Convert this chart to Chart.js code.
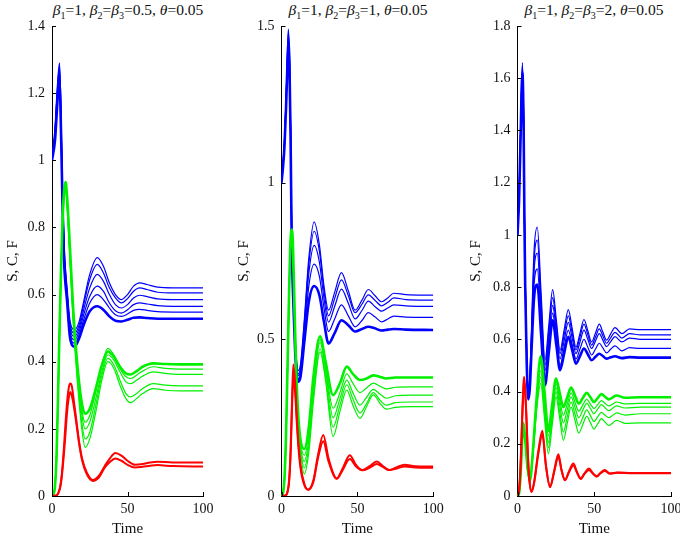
<!DOCTYPE html>
<html>
<head>
<meta charset="utf-8">
<script src="https://cdn.jsdelivr.net/npm/chart.js@4.4.0/dist/chart.umd.min.js"></script>
<style>
  html, body { margin: 0; padding: 0; background: #fff; }
  body { position: relative; width: 680px; height: 537px; overflow: hidden; }
  canvas { position: absolute; top: 0; }
  .ttl { position: absolute; top: 0; text-align: center; font-family: "Liberation Serif", serif; font-size: 15.5px; line-height: 19px; color: #111; white-space: nowrap; }
  .ttl sub { font-size: 10px; line-height: 0; vertical-align: -4px; }
</style>
</head>
<body>
<div class="ttl" style="left:40px;width:176px"><i>β</i><sub>1</sub>=1, <i>β</i><sub>2</sub>=<i>β</i><sub>3</sub>=0.5, <i>θ</i>=0.05</div>
<div class="ttl" style="left:270px;width:176px"><i>β</i><sub>1</sub>=1, <i>β</i><sub>2</sub>=<i>β</i><sub>3</sub>=1, <i>θ</i>=0.05</div>
<div class="ttl" style="left:506px;width:176px"><i>β</i><sub>1</sub>=1, <i>β</i><sub>2</sub>=<i>β</i><sub>3</sub>=2, <i>θ</i>=0.05</div>
<canvas id="c1" width="230" height="537" style="left:0"></canvas>
<canvas id="c2" width="230" height="537" style="left:230px"></canvas>
<canvas id="c3" width="240" height="537" style="left:460px"></canvas>
<script>
// x ticks shared, y ticks per panel
const xTicks = [0, 50, 100];
const p1YTicks = [0, 0.2, 0.4, 0.6, 0.8, 1, 1.2, 1.4];
const p2YTicks = [0, 0.5, 1, 1.5];
const p3YTicks = [0, 0.2, 0.4, 0.6, 0.8, 1, 1.2, 1.4, 1.6, 1.8];

// ---- panel 1: beta2=beta3=0.5 ----
const p1TimeS = [0, 2, 3, 4, 5, 6, 7, 8, 10, 12, 15, 18, 21, 25, 30, 34, 38, 42, 46, 50, 54, 58, 63, 70, 80, 100];
const p1S = [
  [1.00,1.10,1.18,1.25,1.29,1.13,0.91,0.75,0.62,0.52,0.495,0.52,0.58,0.66,0.71,0.685,0.635,0.60,0.585,0.60,0.625,0.635,0.630,0.622,0.620,0.620],
  [1.00,1.09,1.17,1.24,1.28,1.12,0.90,0.74,0.61,0.51,0.485,0.51,0.57,0.645,0.69,0.665,0.62,0.59,0.575,0.588,0.610,0.620,0.615,0.607,0.605,0.605],
  [1.00,1.08,1.16,1.23,1.27,1.11,0.89,0.73,0.60,0.50,0.475,0.50,0.555,0.62,0.66,0.64,0.60,0.57,0.56,0.57,0.590,0.598,0.594,0.587,0.585,0.585],
  [1.00,1.08,1.15,1.22,1.26,1.10,0.88,0.72,0.60,0.49,0.465,0.49,0.54,0.595,0.625,0.61,0.575,0.552,0.545,0.555,0.570,0.575,0.572,0.567,0.565,0.565],
  [1.00,1.07,1.14,1.21,1.25,1.09,0.87,0.71,0.59,0.48,0.455,0.48,0.525,0.575,0.60,0.585,0.56,0.54,0.535,0.542,0.553,0.556,0.553,0.549,0.548,0.548],
  [1.00,1.06,1.13,1.20,1.23,1.08,0.86,0.70,0.58,0.47,0.445,0.47,0.51,0.55,0.565,0.555,0.535,0.522,0.52,0.525,0.531,0.532,0.530,0.528,0.528,0.528]
];
const p1TimeC = [0, 1, 2, 3, 4, 5, 6, 7, 8, 9, 10, 12, 14, 17, 20, 22, 25, 29, 33, 37, 41, 45, 49, 52, 56, 60, 67, 75, 85, 100];
const p1C = [
  [0,0.005,0.03,0.12,0.30,0.50,0.68,0.82,0.91,0.935,0.89,0.73,0.56,0.38,0.27,0.245,0.26,0.32,0.39,0.43,0.415,0.385,0.365,0.362,0.372,0.385,0.395,0.393,0.392,0.392],
  [0,0.005,0.03,0.12,0.30,0.50,0.68,0.82,0.91,0.93,0.88,0.72,0.55,0.37,0.25,0.22,0.24,0.31,0.39,0.44,0.42,0.38,0.355,0.35,0.36,0.372,0.385,0.380,0.378,0.378],
  [0,0.005,0.03,0.12,0.29,0.49,0.67,0.81,0.90,0.92,0.87,0.71,0.54,0.36,0.235,0.20,0.22,0.29,0.37,0.42,0.405,0.37,0.34,0.335,0.345,0.357,0.37,0.365,0.362,0.362],
  [0,0.005,0.03,0.11,0.29,0.49,0.67,0.81,0.90,0.92,0.87,0.70,0.53,0.34,0.21,0.17,0.19,0.27,0.36,0.41,0.39,0.345,0.305,0.295,0.305,0.32,0.335,0.330,0.328,0.328],
  [0,0.005,0.03,0.11,0.28,0.48,0.66,0.80,0.89,0.91,0.86,0.69,0.52,0.33,0.19,0.145,0.17,0.25,0.345,0.40,0.38,0.33,0.29,0.278,0.29,0.305,0.32,0.315,0.313,0.313]
];
const p1TimeF = [0, 3, 5, 6, 7, 8, 9, 10, 11, 12, 13, 14, 16, 18, 20, 23, 27, 31, 35, 38, 42, 46, 50, 55, 60, 65, 70, 80, 100];
const p1F = [
  [0,0.002,0.02,0.045,0.09,0.15,0.22,0.28,0.32,0.335,0.33,0.30,0.23,0.16,0.11,0.07,0.048,0.06,0.09,0.11,0.128,0.12,0.105,0.093,0.095,0.10,0.102,0.10,0.10],
  [0,0.002,0.018,0.04,0.08,0.13,0.19,0.25,0.29,0.31,0.30,0.28,0.22,0.155,0.105,0.065,0.045,0.055,0.085,0.10,0.112,0.105,0.093,0.085,0.087,0.09,0.092,0.089,0.088]
];

// ---- panel 2: beta2=beta3=1 ----
const p2TimeS = [0, 1, 2, 3, 4, 4.5, 5.3, 6, 6.7, 8, 9, 10, 11, 12.5, 15, 18, 21.5, 25, 28, 31, 35, 39.5, 44, 48.5, 53, 57.2, 61.5, 66, 70, 74, 82, 100];
const p2S = [
  [1.00,1.06,1.14,1.27,1.42,1.49,1.40,1.18,0.86,0.63,0.50,0.43,0.40,0.42,0.56,0.76,0.875,0.80,0.67,0.593,0.65,0.713,0.655,0.593,0.625,0.659,0.64,0.62,0.632,0.647,0.643,0.641],
  [1.00,1.06,1.14,1.27,1.42,1.48,1.39,1.17,0.85,0.62,0.49,0.42,0.39,0.41,0.55,0.74,0.845,0.78,0.655,0.575,0.63,0.69,0.64,0.585,0.612,0.642,0.625,0.607,0.618,0.632,0.627,0.625],
  [1.00,1.06,1.13,1.26,1.41,1.47,1.38,1.16,0.84,0.61,0.48,0.41,0.385,0.40,0.53,0.71,0.80,0.745,0.63,0.555,0.605,0.66,0.615,0.565,0.592,0.622,0.605,0.59,0.60,0.61,0.607,0.605],
  [1.00,1.05,1.13,1.25,1.40,1.46,1.37,1.15,0.83,0.60,0.47,0.40,0.375,0.39,0.51,0.67,0.74,0.70,0.60,0.525,0.565,0.61,0.575,0.54,0.56,0.585,0.572,0.556,0.565,0.574,0.571,0.57],
  [1.00,1.05,1.12,1.24,1.39,1.45,1.36,1.14,0.82,0.59,0.46,0.39,0.365,0.38,0.49,0.62,0.67,0.64,0.555,0.487,0.52,0.561,0.545,0.525,0.533,0.54,0.535,0.528,0.531,0.533,0.531,0.53]
];
const p2TimeC = [0, 1, 2, 3, 4, 5, 6, 7, 8, 9, 10, 11, 12.5, 15, 18, 21, 25.4, 29, 34, 38.5, 43, 47, 51.7, 56, 60.5, 65, 69, 75, 85, 100];
const p2C = [
  [0,0.01,0.06,0.2,0.42,0.65,0.82,0.85,0.72,0.52,0.36,0.26,0.18,0.15,0.22,0.38,0.51,0.43,0.322,0.36,0.413,0.39,0.37,0.375,0.385,0.38,0.375,0.378,0.378,0.378],
  [0,0.01,0.06,0.2,0.42,0.65,0.82,0.85,0.71,0.51,0.35,0.25,0.17,0.13,0.20,0.36,0.50,0.41,0.28,0.33,0.39,0.36,0.33,0.345,0.36,0.35,0.342,0.347,0.348,0.348],
  [0,0.01,0.06,0.19,0.41,0.64,0.81,0.84,0.70,0.50,0.34,0.24,0.16,0.11,0.18,0.34,0.49,0.40,0.25,0.31,0.37,0.33,0.29,0.315,0.34,0.325,0.312,0.32,0.322,0.322],
  [0,0.01,0.06,0.19,0.41,0.64,0.81,0.84,0.70,0.49,0.33,0.23,0.15,0.09,0.16,0.32,0.47,0.38,0.22,0.29,0.355,0.31,0.265,0.295,0.33,0.305,0.29,0.298,0.30,0.30],
  [0,0.01,0.05,0.18,0.40,0.63,0.80,0.83,0.69,0.48,0.32,0.22,0.14,0.07,0.14,0.30,0.46,0.37,0.19,0.27,0.338,0.29,0.248,0.285,0.323,0.295,0.277,0.283,0.285,0.285]
];
const p2TimeF = [0, 3, 4, 5, 6, 7, 7.8, 9, 10, 11, 12.5, 15, 17.6, 21, 24, 27.5, 31, 36.4, 40, 45, 49, 53.2, 58, 62.7, 67, 71, 76, 81, 88, 100];
const p2F = [
  [0,0.003,0.015,0.05,0.15,0.32,0.42,0.36,0.26,0.18,0.10,0.04,0.02,0.05,0.13,0.195,0.12,0.056,0.085,0.13,0.10,0.083,0.095,0.11,0.095,0.083,0.092,0.10,0.095,0.094],
  [0,0.003,0.013,0.045,0.13,0.29,0.38,0.33,0.24,0.165,0.09,0.035,0.02,0.045,0.12,0.175,0.11,0.055,0.08,0.118,0.095,0.082,0.09,0.102,0.092,0.083,0.088,0.094,0.091,0.09]
];

// ---- panel 3: beta2=beta3=2 ----
const p3TimeS = [0, 1, 2, 3.2, 4, 4.5, 5, 6, 7, 8, 9, 10.8, 12.9, 15.4, 17.9, 20.4, 22.9, 25.3, 27.7, 30.4, 33.1, 35.6, 38.1, 40.7, 43.3, 45.8, 48.3, 50.8, 53.3, 55.6, 58, 60.7, 63.5, 68, 73, 80, 100];
const p3S = [
  [1.0,1.15,1.40,1.66,1.45,1.10,0.85,0.55,0.39,0.45,0.62,0.94,1.03,0.775,0.52,0.655,0.79,0.674,0.558,0.636,0.714,0.642,0.57,0.623,0.676,0.633,0.59,0.624,0.658,0.628,0.597,0.621,0.645,0.622,0.64,0.637,0.637],
  [1.0,1.15,1.40,1.65,1.44,1.09,0.84,0.54,0.385,0.44,0.60,0.90,0.98,0.74,0.50,0.63,0.76,0.653,0.545,0.618,0.69,0.625,0.56,0.609,0.658,0.618,0.578,0.609,0.64,0.613,0.585,0.606,0.627,0.605,0.622,0.617,0.617],
  [1.0,1.14,1.39,1.64,1.43,1.08,0.83,0.53,0.38,0.43,0.58,0.86,0.93,0.705,0.48,0.605,0.73,0.628,0.525,0.595,0.665,0.605,0.545,0.59,0.635,0.60,0.565,0.594,0.622,0.597,0.572,0.591,0.61,0.59,0.605,0.60,0.60],
  [1.0,1.14,1.38,1.63,1.42,1.07,0.82,0.52,0.375,0.42,0.56,0.81,0.87,0.66,0.45,0.575,0.70,0.60,0.50,0.568,0.635,0.58,0.525,0.563,0.60,0.57,0.54,0.563,0.585,0.567,0.548,0.562,0.575,0.556,0.568,0.565,0.565],
  [1.0,1.13,1.37,1.62,1.41,1.06,0.81,0.51,0.37,0.41,0.54,0.76,0.81,0.617,0.424,0.549,0.673,0.578,0.482,0.546,0.61,0.559,0.507,0.536,0.565,0.543,0.52,0.533,0.545,0.536,0.526,0.531,0.535,0.528,0.532,0.53,0.53]
];
const p3TimeC = [0, 1, 2, 3, 3.8, 5, 6.5, 8.1, 10, 12.5, 15.1, 17.6, 20.1, 22.6, 25.1, 27.5, 29.9, 32.4, 34.9, 37.4, 39.9, 42.5, 45.1, 47.5, 49.8, 52.2, 54.7, 57, 59.5, 62, 64.5, 70, 80, 100];
const p3C = [
  [0,0.01,0.08,0.21,0.28,0.22,0.11,0.06,0.17,0.38,0.535,0.40,0.25,0.35,0.45,0.395,0.34,0.378,0.415,0.385,0.354,0.375,0.395,0.378,0.36,0.375,0.39,0.38,0.37,0.378,0.385,0.376,0.378,0.378],
  [0,0.01,0.08,0.21,0.28,0.22,0.11,0.058,0.165,0.37,0.51,0.37,0.23,0.33,0.43,0.37,0.31,0.352,0.395,0.36,0.325,0.348,0.37,0.352,0.335,0.35,0.365,0.355,0.345,0.352,0.36,0.353,0.355,0.355],
  [0,0.01,0.075,0.2,0.275,0.215,0.105,0.057,0.16,0.35,0.48,0.34,0.205,0.31,0.415,0.348,0.28,0.33,0.38,0.34,0.30,0.328,0.355,0.335,0.315,0.333,0.35,0.338,0.327,0.336,0.345,0.337,0.34,0.34],
  [0,0.01,0.075,0.2,0.275,0.215,0.105,0.056,0.155,0.34,0.455,0.32,0.185,0.29,0.40,0.322,0.245,0.303,0.36,0.315,0.27,0.30,0.33,0.308,0.285,0.303,0.32,0.31,0.30,0.309,0.318,0.31,0.315,0.315],
  [0,0.01,0.07,0.19,0.27,0.21,0.10,0.055,0.15,0.33,0.43,0.296,0.162,0.271,0.38,0.297,0.213,0.277,0.34,0.291,0.241,0.273,0.305,0.281,0.256,0.276,0.296,0.283,0.27,0.28,0.29,0.278,0.28,0.28]
];
const p3TimeF = [0, 1, 2, 3, 4, 4.4, 5.5, 6.5, 7.5, 9.2, 11, 13.5, 16.2, 18.5, 21.2, 24, 26.6, 28.7, 30.9, 33.6, 36.4, 38.7, 41.1, 43.8, 46.6, 49, 51.6, 54, 56.9, 60, 65, 75, 100];
const p3F = [
  [0,0.02,0.12,0.30,0.44,0.456,0.35,0.20,0.08,0.015,0.06,0.17,0.25,0.12,0.034,0.10,0.16,0.10,0.06,0.095,0.124,0.093,0.065,0.088,0.105,0.088,0.074,0.088,0.10,0.086,0.09,0.088,0.088],
  [0,0.02,0.11,0.28,0.42,0.44,0.34,0.19,0.075,0.017,0.055,0.16,0.235,0.115,0.036,0.095,0.15,0.098,0.062,0.092,0.117,0.09,0.068,0.086,0.1,0.086,0.076,0.087,0.096,0.086,0.089,0.087,0.087]
];

const BLUE = "#0000ff", GREEN = "#00f000", RED = "#ff0000";
const FONT = "'Liberation Serif', serif";

// small inward tick marks on left and bottom axes
const inwardTicks = {
  id: "inwardTicks",
  afterDraw(chart) {
    const { ctx, chartArea, scales: { x, y } } = chart;
    ctx.save();
    ctx.strokeStyle = "#000";
    ctx.lineWidth = 1;
    ctx.beginPath();
    y.ticks.forEach(t => {
      const py = Math.round(y.getPixelForValue(t.value)) + 0.5;
      ctx.moveTo(chartArea.left, py);
      ctx.lineTo(chartArea.left + 4, py);
    });
    x.ticks.forEach(t => {
      const px = Math.round(x.getPixelForValue(t.value)) + 0.5;
      ctx.moveTo(px, chartArea.bottom);
      ctx.lineTo(px, chartArea.bottom - 4);
    });
    ctx.stroke();
    ctx.restore();
  }
};

function toSets(times, curves, color, thickIdx) {
  return curves.map((vals, k) => ({
    data: times.map((t, i) => ({ x: t, y: vals[i] })),
    borderColor: color,
    borderWidth: k === thickIdx ? 2.6 : 1.2,
    pointRadius: 0,
    fill: false,
    cubicInterpolationMode: "monotone"
  }));
}

const fmt = v => String(Math.round(v * 10) / 10);

function makePanel(id, p) {
  const datasets = [
    ...toSets(p.tF, p.F, RED, -1).map(d => ({ ...d, borderWidth: 2 })),
    ...toSets(p.tC, p.C, GREEN, 0),
    ...toSets(p.tS, p.S, BLUE, p.S.length - 1)
  ];
  new Chart(document.getElementById(id), {
    type: "line",
    data: { datasets },
    options: {
      responsive: false,
      animation: false,
      layout: { padding: { left: 0, right: p.padRight, top: 26, bottom: 0 } },
      plugins: { legend: { display: false }, tooltip: { enabled: false } },
      scales: {
        x: {
          type: "linear", min: 0, max: 100,
          afterBuildTicks: s => { s.ticks = xTicks.map(v => ({ value: v })); },
          afterFit: s => { s.height = 41; },
          grid: { display: false, drawTicks: false },
          border: { display: true, color: "#000", width: 1 },
          ticks: { font: { family: FONT, size: 14 }, color: "#111", padding: 5, maxRotation: 0, callback: fmt },
          title: { display: true, text: "Time", font: { family: FONT, size: 15 }, color: "#111", padding: { top: 0, bottom: -1 } }
        },
        y: {
          type: "linear", min: 0, max: p.yMax,
          afterBuildTicks: s => { s.ticks = p.yTicks.map(v => ({ value: v })); },
          afterFit: s => { s.width = p.axisLeft; },
          grid: { display: false, drawTicks: false },
          border: { display: true, color: "#000", width: 1 },
          ticks: { font: { family: FONT, size: 14 }, color: "#111", padding: 7, callback: fmt },
          title: { display: true, text: "S, C, F", font: { family: FONT, size: 15 }, color: "#111", padding: { top: p.titlePad, bottom: 0 } }
        }
      }
    },
    plugins: [inwardTicks]
  });
}

makePanel("c1", { tS: p1TimeS, S: p1S, tC: p1TimeC, C: p1C, tF: p1TimeF, F: p1F, yMax: 1.4, yTicks: p1YTicks, axisLeft: 52, padRight: 27, titlePad: 4 });
makePanel("c2", { tS: p2TimeS, S: p2S, tC: p2TimeC, C: p2C, tF: p2TimeF, F: p2F, yMax: 1.5, yTicks: p2YTicks, axisLeft: 51.5, padRight: 26.7, titlePad: 5 });
makePanel("c3", { tS: p3TimeS, S: p3S, tC: p3TimeC, C: p3C, tF: p3TimeF, F: p3F, yMax: 1.8, yTicks: p3YTicks, axisLeft: 57.5, padRight: 29, titlePad: 7 });
</script>
</body>
</html>
